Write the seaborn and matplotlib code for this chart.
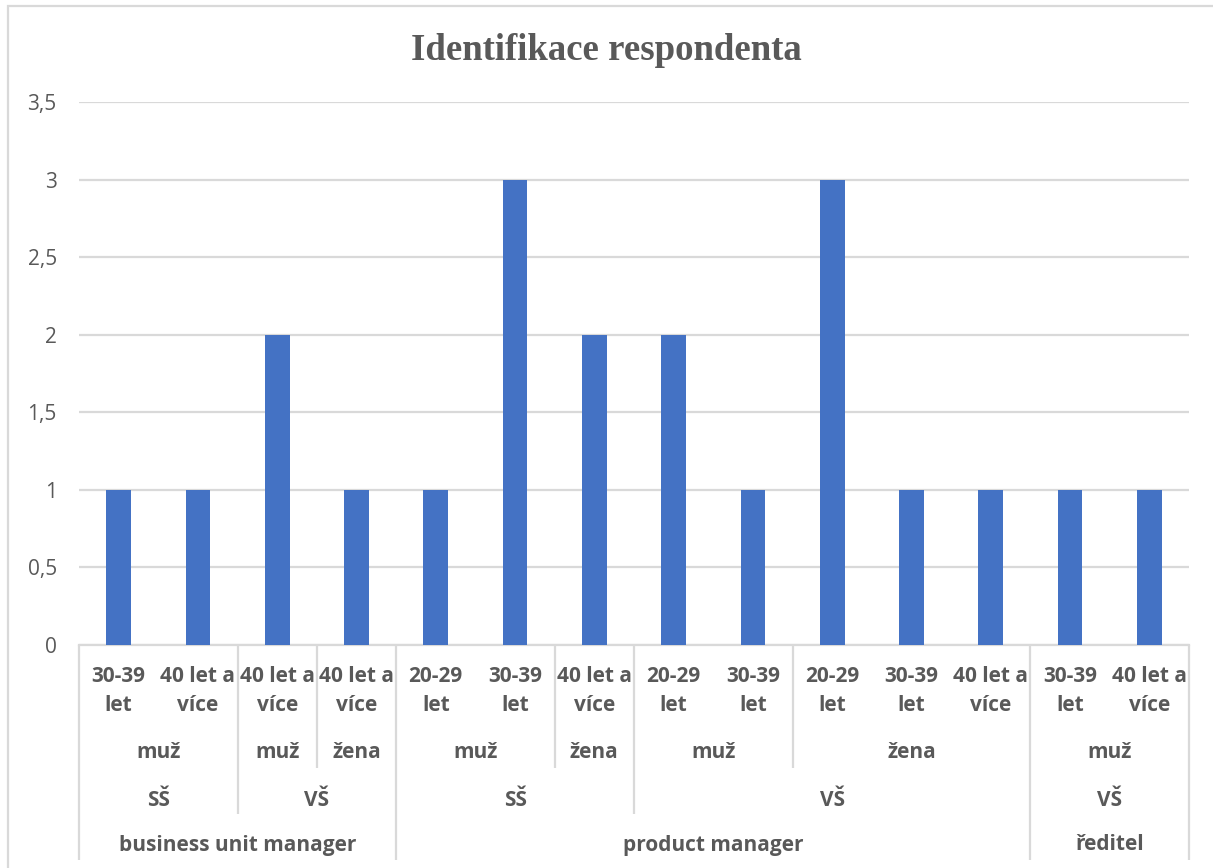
import numpy as np
import pandas as pd
import matplotlib
matplotlib.use("Agg")
import matplotlib.pyplot as plt
import matplotlib.transforms as mtransforms
from matplotlib.patches import Rectangle
import seaborn as sns

# data
values = [1, 1, 2, 1, 1, 3, 2, 2, 1, 3, 1, 1, 1, 1]
vek = ["30-39\nlet", "40 let a\nvíce", "40 let a\nvíce", "40 let a\nvíce",
       "20-29\nlet", "30-39\nlet", "40 let a\nvíce", "20-29\nlet", "30-39\nlet",
       "20-29\nlet", "30-39\nlet", "40 let a\nvíce", "30-39\nlet", "40 let a\nvíce"]
# (label, start index, count)
pohlavi = [("muž", 0, 2), ("muž", 2, 1), ("žena", 3, 1), ("muž", 4, 2), ("žena", 6, 1),
           ("muž", 7, 2), ("žena", 9, 3), ("muž", 12, 2)]
vzdelani = [("SŠ", 0, 2), ("VŠ", 2, 2), ("SŠ", 4, 3), ("VŠ", 7, 5), ("VŠ", 12, 2)]
pozice = [("business unit manager", 0, 4), ("product manager", 4, 8), ("ředitel", 12, 2)]
yticks = [0, 0.5, 1, 1.5, 2, 2.5, 3, 3.5]

df = pd.DataFrame({"kat": [str(i) for i in range(len(values))], "pocet": values})

W, H = 1213, 868
sns.set_theme(style="white")
plt.rcParams['font.family'] = ['Open Sans', 'DejaVu Sans']

fig = plt.figure(figsize=(W / 100, H / 100), dpi=100)
ax = fig.add_axes([79 / W, 1 - 645 / H, (1189 - 79) / W, (645 - 102) / H])

sns.barplot(data=df, x="kat", y="pocet", color="#4472C4", width=0.31,
            saturation=1, linewidth=0, ax=ax, zorder=3)

ax.set_ylim(0, 3.5)
ax.set_xlim(-0.5, len(values) - 0.5)
ax.set_yticks(yticks)
ax.set_yticklabels([f"{t:g}".replace(".", ",") for t in yticks],
                   color="#595959", fontsize=15)
ax.tick_params(axis="y", length=0, pad=16)
ax.set_xticks([])
ax.set_xlabel("")
ax.set_ylabel("")
ax.grid(axis="y", color="#d9d9d9", linewidth=1.6, zorder=0)
for s in ["top", "right", "left"]:
    ax.spines[s].set_visible(False)
ax.spines["bottom"].set_color("#d9d9d9")
ax.spines["bottom"].set_linewidth(1.6)

# multi-level category axis
tr = mtransforms.blended_transform_factory(ax.transData, fig.transFigure)
def fy(px):
    return 1 - px / H

lab = dict(color="#595959", fontsize=15, fontweight="bold", ha="center",
           va="center", transform=tr, linespacing=1.55)
for i, t in enumerate(vek):
    ax.text(i, fy(691), t, **lab)
for t, s, n in pohlavi:
    ax.text(s + (n - 1) / 2, fy(753), t, **lab)
for t, s, n in vzdelani:
    ax.text(s + (n - 1) / 2, fy(800), t, **lab)
for t, s, n in pozice:
    ax.text(s + (n - 1) / 2, fy(845), t, **lab)

# separators: depth depends on level of the boundary
depth = {}
for t, s, n in pohlavi:
    depth[s] = 768
for t, s, n in vzdelani:
    depth[s] = 814
for t, s, n in pozice:
    depth[s] = 860
depth[len(values)] = 860
for k, d in depth.items():
    ax.plot([k - 0.5, k - 0.5], [fy(645), fy(d)], color="#d9d9d9", lw=1.6,
            transform=tr, clip_on=False, solid_capstyle="butt")

fig.text(0.5, fy(50), "Identifikace respondenta", ha="center", va="center",
         fontsize=26.5, fontweight="bold", color="#595959",
         family=["Liberation Serif", "DejaVu Serif"])

# chart border
fig.patches.append(Rectangle((8 / W, -0.1), 1.2, fy(6) + 0.1, transform=fig.transFigure,
                             fill=False, edgecolor="#d9d9d9", lw=1.6))

fig.savefig("out.png", dpi=100)
